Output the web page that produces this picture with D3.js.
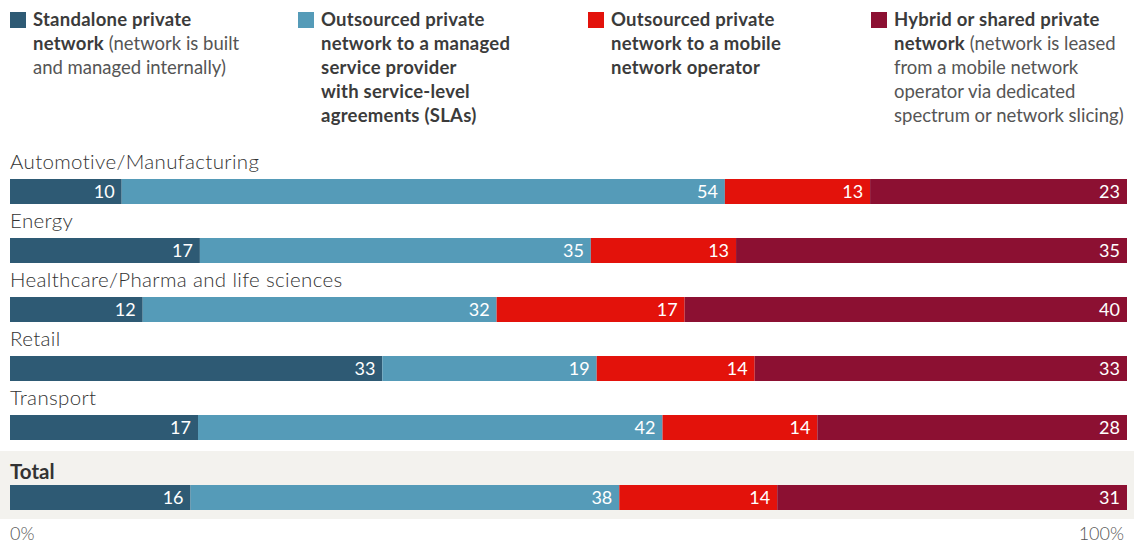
<!DOCTYPE html>
<html>
<head>
<meta charset="utf-8">
<script src="https://cdn.jsdelivr.net/npm/d3@7"></script>
<style>
  body { margin: 0; background: #fff; }
  svg { display: block; font-family: Lato, "Open Sans", sans-serif; }
</style>
</head>
<body>
<svg id="chart" width="1137" height="544"></svg>
<script>
const categories = ['Automotive/Manufacturing', 'Energy', 'Healthcare/Pharma and life sciences', 'Retail', 'Transport']
const standalone = [10, 17, 12, 33, 17]
const outsourcedMsp = [54, 35, 32, 19, 42]
const outsourcedMno = [13, 13, 17, 14, 14]
const hybrid = [23, 35, 40, 33, 28]
const total = [16, 38, 14, 31]
const seriesKeys = ['standalone', 'msp', 'mno', 'hybrid']
const colors = ['#2e5a74', '#559bb8', '#e3120b', '#8c1032']
const tickLabels = ['0%', '100%']

// legend lines, each part is [text, bold]
const legendItems = [
    { x: 10, lines: [[['Standalone private', true]], [['network', true], [' (network is built', false]], [['and managed internally)', false]]] },
    { x: 298, lines: [[['Outsourced private', true]], [['network to a managed', true]], [['service provider', true]], [['with service-level', true]], [['agreements (SLAs)', true]]] },
    { x: 588, lines: [[['Outsourced private', true]], [['network to a mobile', true]], [['network operator', true]]] },
    { x: 871, lines: [[['Hybrid or shared private', true]], [['network', true], [' (network is leased', false]], [['from a mobile network', false]], [['operator via dedicated', false]], [['spectrum or network slicing)', false]]] }
]

const svg = d3.select('#chart')

const x = d3.scaleLinear().domain([0, 1]).range([10, 1127])
const y = d3.scaleBand().domain(categories).range([162, 457]).paddingInner(34 / 59).paddingOuter(17 / 59)
const color = d3.scaleOrdinal().domain(seriesKeys).range(colors)

// legend
const legend = svg.append('g').attr('class', 'legend')
legendItems.forEach((item, i) => {
    legend.append('rect')
        .attr('x', item.x).attr('y', 12)
        .attr('width', 16).attr('height', 16)
        .attr('fill', colors[i])
    const text = legend.append('text')
        .attr('font-size', 18.5)
        .attr('fill', '#3b3b3b')
    item.lines.forEach((line, j) => {
        line.forEach((part, k) => {
            const ts = text.append('tspan').text(part[0])
                .attr('font-weight', part[1] ? 700 : 400)
                .attr('letter-spacing', part[1] ? 0.25 : 0)
                .attr('fill', part[1] ? '#3b3b3b' : '#555')
            if (k === 0) ts.attr('x', item.x + 23).attr('y', 26 + j * 24)
        })
    })
})

// total background band
svg.append('rect')
    .attr('x', 0).attr('y', 451)
    .attr('width', 1134).attr('height', 68)
    .attr('fill', '#f3f2ee')

const rows = categories.map((c, i) => ({
    name: c, y: y(c), bold: false,
    values: [standalone[i], outsourcedMsp[i], outsourcedMno[i], hybrid[i]]
}))
rows.push({ name: 'Total', y: 485, bold: true, values: total })

const barHeight = y.bandwidth()

rows.forEach(row => {
    const sum = d3.sum(row.values)
    let acc = 0
    const segs = row.values.map((v, k) => {
        const s = { key: seriesKeys[k], v: v, x0: acc / sum, x1: (acc + v) / sum }
        acc += v
        return s
    })
    const g = svg.append('g').attr('class', 'row')

    g.append('text')
        .text(row.name)
        .attr('x', 10)
        .attr('y', row.y - (row.bold ? 6 : 10))
        .attr('font-size', 20.5)
        .attr('letter-spacing', row.bold ? 0 : 0.35)
        .attr('font-weight', row.bold ? 700 : 300)
        .attr('fill', '#333')

    g.selectAll('rect').data(segs).join('rect')
        .attr('x', d => x(d.x0))
        .attr('y', row.y)
        .attr('width', d => x(d.x1) - x(d.x0))
        .attr('height', barHeight)
        .attr('fill', d => color(d.key))

    g.selectAll('text.val').data(segs).join('text')
        .attr('class', 'val')
        .text(d => d.v)
        .attr('x', d => x(d.x1) - 7)
        .attr('y', row.y + barHeight / 2 + 6)
        .attr('text-anchor', 'end')
        .attr('font-size', 18)
        .attr('fill', '#fff')
})

// axis labels
svg.selectAll('text.tick').data(tickLabels).join('text')
    .attr('class', 'tick')
    .text(d => d)
    .attr('x', (d, i) => i === 0 ? x(0) : x(1) - 3)
    .attr('y', 540)
    .attr('text-anchor', (d, i) => i === 0 ? 'start' : 'end')
    .attr('font-size', 18)
    .attr('font-weight', 300)
    .attr('fill', '#555')
</script>
</body>
</html>
